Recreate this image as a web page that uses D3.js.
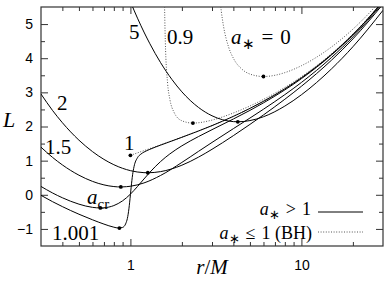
<!DOCTYPE html>
<html>
<head>
<meta charset="utf-8">
<script src="https://cdn.jsdelivr.net/npm/d3@7"></script>
<style>
body { margin: 0; background: #fff; }
.tick text { font-family: "Liberation Sans", Arial, sans-serif; font-size: 14px; fill: #000; }
</style>
</head>
<body>
<svg id="chart" width="387" height="290"></svg>
<script>
// L(r) for circular orbits as [r/M, L] pairs
var curve_a0 = [[3.35,5.663],[3.4,5.376],[3.5,4.950],[3.75,4.330],[4,4.000],[4.5,3.674],[5,3.536],[6,3.464],[7,3.500],[8,3.578],[10,3.780],[12,4.000],[15,4.330],[20,4.851],[25,5.330],[30,5.774]];
var curve_a09 = [[1.57,8.02],[1.58,6.03],[1.59,5.08],[1.6,4.502],[1.65,3.265],[1.7,2.805],[1.8,2.414],[2,2.168],[2.32,2.100],[2.5,2.110],[3,2.188],[4,2.396],[5,2.601],[6,2.794],[8,3.144],[10,3.457],[12,3.743],[15,4.132],[20,4.708],[25,5.218],[30,5.681]];
var curve_a1 = [[1,1.155],[1.02,1.170],[1.1,1.228],[1.2,1.294],[1.5,1.463],[2,1.687],[2.5,1.870],[3,2.027],[4,2.298],[5,2.531],[6,2.739],[8,3.105],[10,3.427],[12,3.718],[15,4.113],[20,4.693],[25,5.206],[30,5.671]];
var curve_a1001 = [[0.3,-0.016],[0.35,-0.200],[0.4,-0.346],[0.5,-0.569],[0.6,-0.732],[0.7,-0.858],[0.8,-0.949],[0.85,-0.973],[0.9,-0.956],[0.95,-0.778],[0.97,-0.570],[0.99,-0.218],[1.0,0.000],[1.01,0.220],[1.03,0.589],[1.05,0.825],[1.1,1.086],[1.15,1.189],[1.2,1.250],[1.3,1.332],[1.5,1.454],[2,1.684],[3,2.026],[4,2.297],[5,2.530],[6,2.738],[8,3.104],[10,3.427],[15,4.112],[20,4.693],[25,5.205],[30,5.671]];
var curve_acr = [[0.3,0.244],[0.35,0.055],[0.4,-0.087],[0.5,-0.274],[0.6,-0.368],[0.667,-0.385],[0.7,-0.381],[0.8,-0.316],[0.9,-0.177],[1.0,0.019],[1.1,0.242],[1.2,0.462],[1.3,0.660],[1.5,0.972],[1.7,1.196],[2,1.434],[2.5,1.705],[3,1.907],[4,2.220],[5,2.472],[6,2.692],[8,3.072],[10,3.401],[15,4.096],[20,4.680],[30,5.663]];
var curve_a15 = [[0.3,1.394],[0.35,1.098],[0.4,0.875],[0.5,0.574],[0.6,0.393],[0.7,0.290],[0.8,0.241],[0.879,0.229],[0.9,0.231],[1.0,0.250],[1.2,0.347],[1.5,0.565],[2,0.948],[2.5,1.271],[3,1.533],[4,1.937],[5,2.247],[6,2.506],[8,2.933],[10,3.290],[15,4.022],[20,4.625],[30,5.626]];
var curve_a2 = [[0.3,2.951],[0.35,2.474],[0.4,2.112],[0.5,1.600],[0.6,1.265],[0.7,1.037],[0.8,0.881],[0.9,0.775],[1.0,0.707],[1.2,0.648],[1.264,0.645],[1.5,0.678],[2,0.866],[2.5,1.102],[3,1.332],[4,1.732],[5,2.061],[6,2.339],[8,2.798],[10,3.178],[15,3.943],[20,4.564],[30,5.584]];
var curve_a5 = [[0.9,6.24],[1.0,5.657],[1.1,5.173],[1.2,4.767],[1.3,4.423],[1.5,3.874],[1.75,3.375],[2,3.015],[2.5,2.559],[3,2.314],[4,2.143],[4.248,2.138],[5,2.173],[6,2.286],[8,2.598],[10,2.929],[15,3.688],[20,4.335],[30,5.403]];

// marked points (minimum of each curve)
var isco_points = [[6,3.464],[2.32,2.100],[1,1.155],[0.862,-0.975],[0.667,-0.385],[0.879,0.229],[1.264,0.645],[4.248,2.138]];

var x_major = [1, 10];
var x_minor = [0.4,0.5,0.6,0.7,0.8,0.9,2,3,4,5,6,7,8,9,20];
var y_major = [-1,0,1,2,3,4,5];
var y_minor = [-0.5,0.5,1.5,2.5,3.5,4.5];

var solid_curves = [curve_a1001, curve_acr, curve_a15, curve_a2, curve_a5];
var dotted_curves = [curve_a0, curve_a09, curve_a1];

var margin_left = 41, margin_right = 383, margin_top = 7, margin_bottom = 246;
var serif = '"Liberation Serif", "Times New Roman", Times, serif';

var svg = d3.select('#chart');

var xScale = d3.scaleLog().domain([0.3, 30]).range([margin_left, margin_right]);
var yScale = d3.scaleLinear().domain([-1.5, 5.5]).range([margin_bottom, margin_top]);

svg.append('defs').append('clipPath').attr('id', 'plot-clip')
  .append('rect')
  .attr('x', margin_left).attr('y', margin_top)
  .attr('width', margin_right - margin_left).attr('height', margin_bottom - margin_top);

// axes: ticks point inward on all four sides
function add_axis(axis, tx, ty, size, values, labels)  {
  var g = svg.append('g')
    .attr('transform', 'translate(' + tx + ',' + ty + ')')
    .call(axis.tickValues(values).tickSize(-size).tickPadding(labels ? 8 : 0)
      .tickFormat(labels ? function(d) {return d3.format('d')(d);} : function() {return '';}));
  g.select('.domain').remove();
  g.selectAll('.tick line').attr('stroke', '#333').attr('stroke-width', 1);
  return g;
}

add_axis(d3.axisLeft(yScale), margin_left, 0, 7, y_major, true);
add_axis(d3.axisLeft(yScale), margin_left, 0, 4, y_minor, false);
add_axis(d3.axisRight(yScale), margin_right, 0, 7, y_major, false);
add_axis(d3.axisRight(yScale), margin_right, 0, 4, y_minor, false);
add_axis(d3.axisBottom(xScale), 0, margin_bottom, 7, x_major, true).selectAll('.tick text').attr('dy', '0').attr('y', 24);
add_axis(d3.axisBottom(xScale), 0, margin_bottom, 4, x_minor, false);
add_axis(d3.axisTop(xScale), 0, margin_top, 7, x_major, false);
add_axis(d3.axisTop(xScale), 0, margin_top, 4, x_minor, false);

svg.append('rect')
  .attr('x', margin_left).attr('y', margin_top)
  .attr('width', margin_right - margin_left).attr('height', margin_bottom - margin_top)
  .attr('fill', 'none').attr('stroke', '#333').attr('stroke-width', 1.2);

var line = d3.line()
  .x(function(d) {return xScale(d[0]);})
  .y(function(d) {return yScale(d[1]);})
  .curve(d3.curveMonotoneX);

var plot = svg.append('g').attr('clip-path', 'url(#plot-clip)');

plot.selectAll('path.dotted')
  .data(dotted_curves)
  .enter()
  .append('path')
  .attr('class', 'dotted')
  .attr('d', line)
  .attr('fill', 'none')
  .attr('stroke', '#555')
  .attr('stroke-width', 1)
  .attr('stroke-dasharray', '1,1.6');

plot.selectAll('path.solid')
  .data(solid_curves)
  .enter()
  .append('path')
  .attr('class', 'solid')
  .attr('d', line)
  .attr('fill', 'none')
  .attr('stroke', '#000')
  .attr('stroke-width', 1);

plot.selectAll('circle')
  .data(isco_points)
  .enter()
  .append('circle')
  .attr('cx', function(d) {return xScale(d[0]);})
  .attr('cy', function(d) {return yScale(d[1]);})
  .attr('r', 1.9)
  .attr('fill', '#000');

// TeX-like labels: parts are [text, style] with style i (italic), s (subscript)
function tex(x, y, parts, anchor, size)  {
  size = size || 20;
  var t = svg.append('text')
    .attr('x', x).attr('y', y)
    .attr('font-family', serif)
    .attr('font-size', size)
    .attr('fill', '#000')
    .attr('text-anchor', anchor || 'start');
  var shift = 0;
  parts.forEach(function(p)  {
    var target = p[1].indexOf('s') >= 0 ? Math.round(size * 0.22) : 0;
    var span = t.append('tspan').text(p[0]).attr('dy', target - shift);
    shift = target;
    if(p[1].indexOf('i') >= 0) span.attr('font-style', 'italic');
    if(p[1].indexOf('s') >= 0) span.attr('font-size', Math.round(size * 0.7));
  });
  return t;
}

tex(129, 39, [['5', '']], 'start', 21);
tex(167, 44, [['0.9', '']], 'start', 21);
tex(231, 44, [['a', 'i'], ['\u2217', 's'], ['\u2004=\u20040', '']], 'start', 21);
tex(57, 110, [['2', '']], 'start', 21);
tex(45, 154, [['1.5', '']], 'start', 21);
tex(124, 150, [['1', '']], 'start', 21);
tex(87, 204, [['a', 'i'], ['cr', 's']], 'start', 21);
tex(52, 240, [['1.001', '']], 'start', 21);

// legend
tex(311, 215, [['a', 'i'], ['\u2217', 's'], ['\u2004>\u20041', '']], 'end', 18);
tex(312, 239, [['a', 'i'], ['\u2217', 's'], ['\u2004\u2264\u20041 (BH)', '']], 'end', 18);
svg.append('line').attr('x1', 318).attr('x2', 363).attr('y1', 212).attr('y2', 212)
  .attr('stroke', '#000').attr('stroke-width', 1);
svg.append('line').attr('x1', 318).attr('x2', 363).attr('y1', 232).attr('y2', 232)
  .attr('stroke', '#555').attr('stroke-width', 1).attr('stroke-dasharray', '1,1.6');

// axis titles
tex(212, 274, [['r', 'i'], ['/', ''], ['M', 'i']], 'middle', 21);
tex(3, 127, [['L', 'i']], 'start', 22);
</script>
</body>
</html>
